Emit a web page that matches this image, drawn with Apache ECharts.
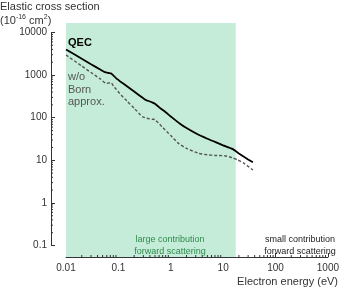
<!DOCTYPE html>
<html><head><meta charset="utf-8">
<script src="https://cdn.jsdelivr.net/npm/echarts@6/dist/echarts.min.js"></script>
<style>html,body{margin:0;padding:0;background:#fff}#c{width:342px;height:288px}</style>
</head><body><div id="c"></div>
<script>
// Data
var qecEnergy = [0.01, 0.02, 0.03, 0.045, 0.055, 0.065, 0.072, 0.08, 0.09, 0.12, 0.2, 0.3, 0.33, 0.4, 0.45, 0.5, 0.6, 0.8, 1, 1.5, 2, 3, 5, 7, 10, 15, 20, 30, 37];
var qecValues = [4000, 2420, 1800, 1350, 1170, 1120, 1100, 990, 850, 650, 410, 285, 262, 240, 226, 212, 176, 134, 107, 72, 57, 43, 32, 27, 22.5, 18.5, 14.5, 10.5, 9];
var bornEnergy = [0.01, 0.02, 0.03, 0.045, 0.059, 0.065, 0.073, 0.08, 0.09, 0.105, 0.15, 0.2, 0.29, 0.35, 0.44, 0.5, 0.7, 1, 1.4, 2, 3.4, 5, 7, 10.7, 15, 19, 25, 37];
var bornValues = [2960, 1630, 1150, 815, 640, 650, 660, 560, 470, 374, 238, 167, 105, 97, 92, 90, 59, 38, 25, 19, 14.6, 13.5, 13, 12.8, 11.5, 10.2, 8.5, 5.9];
var forwardRegion = [0.01, 15.5];
var xTicks = [0.01, 0.1, 1, 10, 100, 1000];
var yTicks = [0.1, 1, 10, 100, 1000, 10000];

function minorList(lo, hi) {
  var out = [];
  for (var d = lo; d < hi; d *= 10) {
    for (var k = 2; k <= 9; k++) out.push(+(d * k).toPrecision(6));
  }
  return out;
}
var xMinor = minorList(0.01, 1000);
var yMinor = minorList(0.1, 10000);

var FONT = 'Liberation Sans, Arial, sans-serif';
var chart = echarts.init(document.getElementById('c'), null, {renderer: 'canvas'});
var X_OFF = 11.5, Y_OFF = 15;

var option = {
  animation: false,
  textStyle: {fontFamily: FONT},
  grid: [
    {left: 66, right: 10, top: 32.5, bottom: 42.5},
    {left: 66, right: 10, top: 23, bottom: 31}
  ],
  xAxis: [
    {type: 'log', gridIndex: 0, min: 0.01, max: 1000, logBase: 10, offset: X_OFF,
     axisLine: {lineStyle: {color: '#333', width: 1}},
     axisTick: {inside: true, length: 4, lineStyle: {color: '#333'}},
     axisLabel: {color: '#333', fontSize: 10, margin: 6, fontFamily: FONT,
       formatter: function (v) { return xTicks.indexOf(+v.toPrecision(6)) >= 0 ? String(+v.toPrecision(6)) : ''; }},
     splitLine: {show: false}},
    {type: 'log', gridIndex: 1, min: 0.01, max: 1000, show: false}
  ],
  yAxis: [
    {type: 'log', gridIndex: 0, min: 0.1, max: 10000, logBase: 10, offset: Y_OFF,
     axisLine: {show: true, lineStyle: {color: '#333', width: 1}},
     axisTick: {show: true, inside: true, length: 4, lineStyle: {color: '#333'}},
     axisLabel: {color: '#333', fontSize: 10, margin: 4, fontFamily: FONT,
       formatter: function (v) { return String(+v.toPrecision(6)); }},
     splitLine: {show: false}},
    {type: 'value', gridIndex: 1, min: 0, max: 1, show: false}
  ],
  series: [
    {type: 'line', xAxisIndex: 1, yAxisIndex: 1, data: [], z: 0, silent: true,
     markArea: {silent: true, itemStyle: {color: '#c5ecd8'},
       data: [[{xAxis: forwardRegion[0]}, {xAxis: forwardRegion[1]}]]}},
    {type: 'custom', name: 'xminor', xAxisIndex: 0, yAxisIndex: 0, clip: false, silent: true, z: 5,
     data: xMinor.map(function (v) { return [v]; }),
     renderItem: function (params, api) {
       var p = api.coord([api.value(0), 1]);
       var cs = params.coordSys;
       var y0 = cs.y + cs.height + X_OFF;
       return {type: 'line', shape: {x1: p[0], y1: y0, x2: p[0], y2: y0 - 2}, style: {stroke: '#333', lineWidth: 1}};
     }},
    {type: 'custom', name: 'yminor', xAxisIndex: 0, yAxisIndex: 0, clip: false, silent: true, z: 5,
     data: yMinor.map(function (v) { return [v]; }),
     renderItem: function (params, api) {
       var p = api.coord([1, api.value(0)]);
       var cs = params.coordSys;
       var x0 = cs.x - Y_OFF;
       return {type: 'line', shape: {x1: x0, y1: p[1], x2: x0 + 2, y2: p[1]}, style: {stroke: '#333', lineWidth: 1}};
     }},
    {type: 'line', name: 'w/o Born approx.', xAxisIndex: 0, yAxisIndex: 0, showSymbol: false, smooth: 0.2,
     data: bornEnergy.map(function (e, i) { return [e, bornValues[i]]; }),
     lineStyle: {color: '#555', width: 1.4, type: [3, 2]}, z: 3},
    {type: 'line', name: 'QEC', xAxisIndex: 0, yAxisIndex: 0, showSymbol: false, smooth: 0.2,
     data: qecEnergy.map(function (e, i) { return [e, qecValues[i]]; }),
     lineStyle: {color: '#000', width: 1.8}, z: 4}
  ],
  graphic: {elements: [
    {type: 'text', z: 100, left: 0, top: 1, style: {text: 'Elastic cross section', font: '11px ' + FONT, fill: '#333'}},
    {type: 'text', z: 100, left: 0, top: 14, style: {
      text: '(10{sup|-16} cm{sup|2})', font: '11px ' + FONT, fill: '#333',
      rich: {sup: {fontSize: 7, verticalAlign: 'top', padding: [0, 0, 6, 0], fill: '#333', fontFamily: FONT}}}},
    {type: 'text', z: 100, left: 68, top: 37, style: {text: 'QEC', font: 'bold 11px ' + FONT, fill: '#000'}},
    {type: 'text', z: 100, left: 68, top: 71, style: {text: 'w/o\nBorn\napprox.', font: '11px ' + FONT, fill: '#555', lineHeight: 12.5}},
    {type: 'text', z: 100, x: 170, y: 234, style: {text: 'large contribution\nforward scattering', font: '9px ' + FONT, fill: '#2f8a4c', align: 'center', lineHeight: 12}},
    {type: 'text', z: 100, x: 300, y: 234, style: {text: 'small contribution\nforward scattering', font: '9px ' + FONT, fill: '#222', align: 'center', lineHeight: 12}},
    {type: 'text', z: 100, right: 4, top: 276, style: {text: 'Electron energy (eV)', font: '11px ' + FONT, fill: '#333'}}
  ]}
};
chart.setOption(option);
</script>
</body></html>
